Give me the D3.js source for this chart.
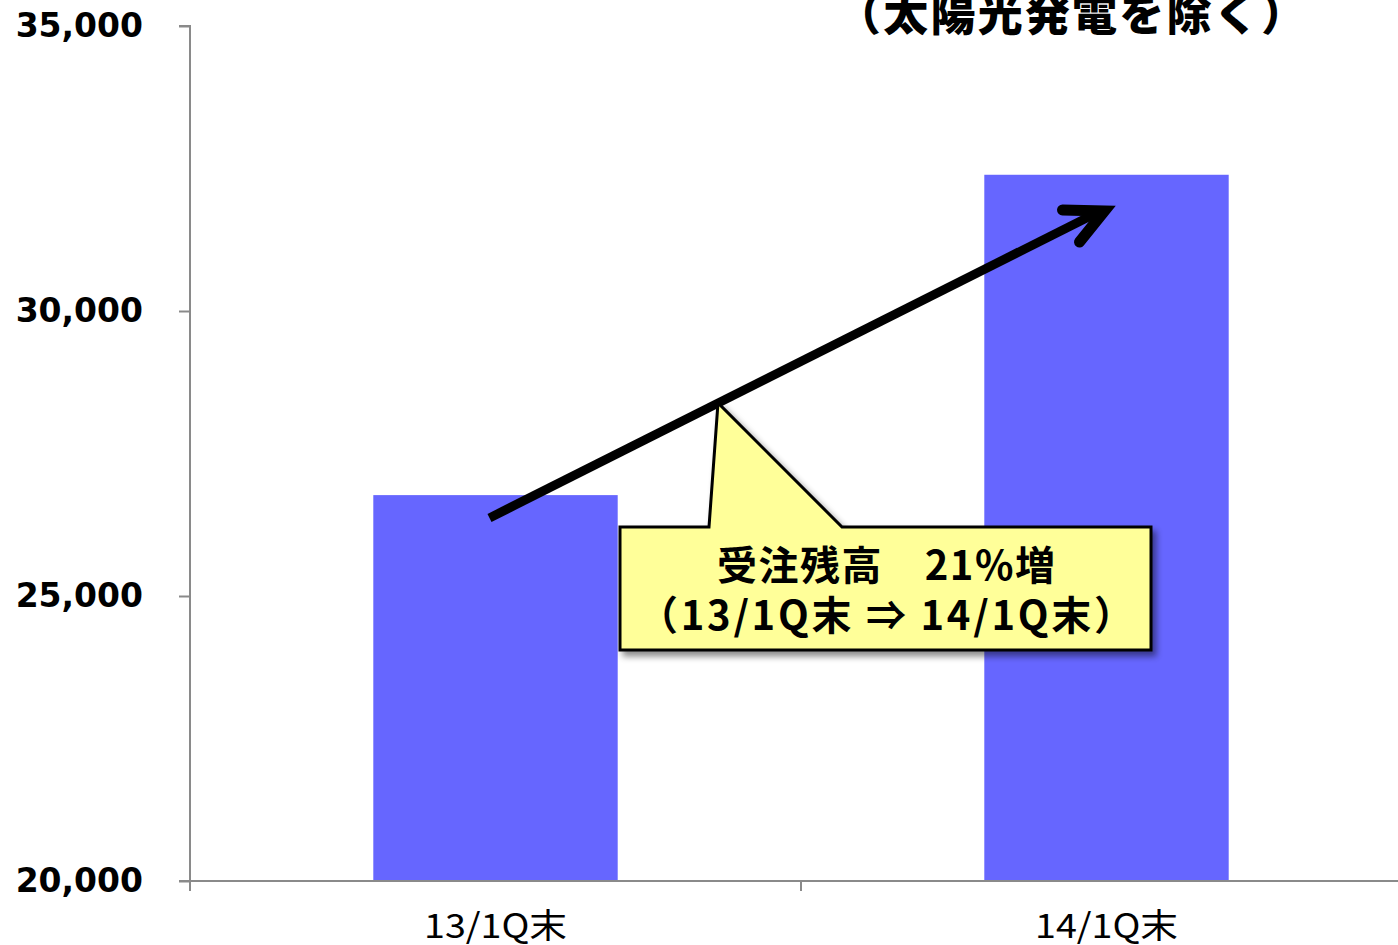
<!DOCTYPE html>
<html><head><meta charset="utf-8">
<script src="https://cdn.jsdelivr.net/npm/d3@7"></script>
<style>
html,body{margin:0;padding:0;background:#fff;}
svg{display:block;}
</style></head>
<body>
<svg id="chart" width="1398" height="945"></svg>
<script>
// ---- data ----
const categories = ["13/1Q末", "14/1Q末"];
const values = [26770, 32390];
const yTicks = [20000, 25000, 30000, 35000];
const titleText = "（太陽光発電を除く）";
const calloutLines = ["受注残高　21%増", "（13/1Q末 ⇒ 14/1Q末）"];
const arrowFrom = {cat: "13/1Q末", value: 26370};
const arrowTo = {cat: "14/1Q末", value: 31790};

const svg = d3.select("#chart");
const W = 1398, H = 945;

const x = d3.scaleBand().domain(categories).range([190, 1412]).padding(0);
const y = d3.scaleLinear().domain([20000, 35000]).range([881, 26]);
const barW = x.bandwidth() * 0.4;

const defs = svg.append("defs");
const f = defs.append("filter").attr("id", "shadow").attr("x", "-10%").attr("y", "-10%").attr("width", "130%").attr("height", "140%");
f.append("feDropShadow").attr("dx", 4).attr("dy", 5).attr("stdDeviation", 3)
  .attr("flood-color", "#000").attr("flood-opacity", 0.45);

// bars
svg.append("g").selectAll("rect").data(categories).join("rect")
  .attr("x", d => x(d) + x.bandwidth() / 2 - barW / 2)
  .attr("y", (d, i) => y(values[i]))
  .attr("width", barW)
  .attr("height", (d, i) => y(20000) - y(values[i]))
  .attr("fill", "#6666FF");

// y axis
const yAxis = svg.append("g").attr("transform", "translate(190,0)")
  .call(d3.axisLeft(y).tickValues(yTicks).tickSize(11).tickPadding(36).tickFormat(d3.format(",")));
yAxis.select(".domain").attr("stroke", "#8a8a8a").attr("stroke-width", 2)
  .attr("d", `M-11,${y(35000)}H0V${y(20000) + 10}`);
yAxis.selectAll(".tick line").attr("stroke", "#8a8a8a").attr("stroke-width", 2);
yAxis.selectAll(".tick text").attr("fill", "#000")
  .style("font-family", "'DejaVu Sans', sans-serif").style("font-weight", "bold").style("font-size", "33px");

// x axis
const xg = svg.append("g");
xg.append("line").attr("x1", 179).attr("x2", W).attr("y1", y(20000)).attr("y2", y(20000))
  .attr("stroke", "#8a8a8a").attr("stroke-width", 2);
xg.selectAll("line.b").data(categories.slice(1)).join("line").attr("class", "b")
  .attr("x1", d => x(d)).attr("x2", d => x(d))
  .attr("y1", y(20000)).attr("y2", y(20000) + 10)
  .attr("stroke", "#8a8a8a").attr("stroke-width", 2);
xg.selectAll("text").data(categories).join("text")
  .attr("x", d => x(d) + x.bandwidth() / 2)
  .attr("y", 938)
  .attr("text-anchor", "middle")
  .attr("textLength", 143).attr("lengthAdjust", "spacingAndGlyphs")
  .style("font-family", "'Noto Sans CJK JP', sans-serif").style("font-size", "34px").attr("fill", "#000")
  .text(d => d);

// title (cut at top)
svg.append("text").attr("x", 1071).attr("y", 31).attr("text-anchor", "middle")
  .attr("textLength", 470)
  .style("font-family", "'Noto Sans CJK JP', sans-serif").style("font-weight", "900").style("font-size", "45px")
  .text(titleText);

// arrow
const ax1 = x(arrowFrom.cat) + x.bandwidth() / 2 - 6, ay1 = y(arrowFrom.value);
const ax2 = x(arrowTo.cat) + x.bandwidth() / 2 - 2, ay2 = y(arrowTo.value);
svg.append("line").attr("x1", ax1).attr("y1", ay1).attr("x2", ax2 - 8).attr("y2", ay2 + 4)
  .attr("stroke", "#000").attr("stroke-width", 9);
svg.append("path")
  .attr("d", `M${ax2 - 42},${ay2 + 1}L${ax2},${ay2 + 2}L${ax2 - 25},${ay2 + 33}`)
  .attr("fill", "none").attr("stroke", "#000").attr("stroke-width", 11)
  .attr("stroke-linecap", "round").attr("stroke-linejoin", "miter");

// callout
const cg = svg.append("g");
cg.append("path")
  .attr("d", "M620,527L709,527L718,403L842,527L1151,527L1151,650L620,650Z")
  .attr("fill", "#FFFF99").attr("stroke", "#000").attr("stroke-width", 3)
  .attr("filter", "url(#shadow)");
const calloutWidths = [338, 496];
cg.selectAll("text").data(calloutLines).join("text")
  .attr("x", 886).attr("y", (d, i) => 580 + i * 50)
  .attr("text-anchor", "middle")
  .attr("textLength", (d, i) => calloutWidths[i])
  .style("font-family", "'Noto Sans CJK JP', sans-serif").style("font-weight", "bold").style("font-size", "40px")
  .attr("fill", "#000")
  .text(d => d);
</script>
</body></html>
